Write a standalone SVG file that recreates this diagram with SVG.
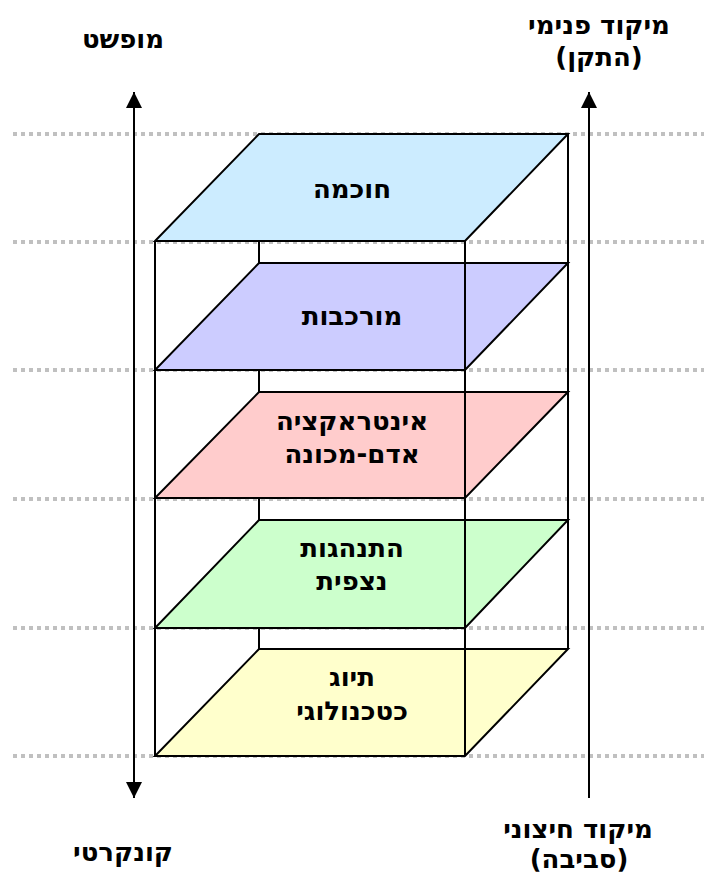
<svg xmlns="http://www.w3.org/2000/svg" width="704" height="874" viewBox="0 0 704 874">
  <style>
    .guide { stroke: #c0c0c0; stroke-width: 4; stroke-dasharray: 4 4; fill: none; }
    .edge { stroke: #000; stroke-width: 2; fill: none; }
    .layer { stroke: #000; stroke-width: 2; stroke-linejoin: miter; }
    .lbl { font-family: "DejaVu Sans", Verdana, sans-serif; font-weight: bold; font-size: 26px; fill: #000; text-anchor: middle; direction: rtl; }
  </style>
  <defs>
    <marker id="head" viewBox="0 0 16 16" refX="16" refY="8" markerWidth="16" markerHeight="16" markerUnits="userSpaceOnUse" orient="auto-start-reverse">
      <path d="M0,0 L16,8 L0,16 Z" fill="#000"/>
    </marker>
  </defs>
  <rect width="704" height="874" fill="#fff"/>

  <!-- dotted level guides -->
  <g id="guides">
    <line class="guide" x1="13" y1="134" x2="704" y2="134"/>
    <line class="guide" x1="13" y1="242" x2="704" y2="242"/>
    <line class="guide" x1="13" y1="370" x2="704" y2="370"/>
    <line class="guide" x1="13" y1="499" x2="704" y2="499"/>
    <line class="guide" x1="13" y1="628" x2="704" y2="628"/>
    <line class="guide" x1="13" y1="756" x2="704" y2="756"/>
  </g>

  <!-- back edges of the box, hidden behind the layers -->
  <g id="back-frame">
    <line class="edge" x1="259" y1="134" x2="259" y2="649"/>
    <line class="edge" x1="568" y1="134" x2="568" y2="649"/>
  </g>

  <g id="layer-wisdom">
    <polygon class="layer" fill="#ccecff" points="259,134 568,134 465,241 155,241"/>
    <text class="lbl" x="352" y="198">חוכמה</text>
  </g>
  <g id="layer-complexity">
    <polygon class="layer" fill="#ccccff" points="259,263 568,263 465,370 155,370"/>
    <text class="lbl" x="352" y="325">מורכבות</text>
  </g>
  <g id="layer-hci">
    <polygon class="layer" fill="#ffcccc" points="259,392 568,392 465,498 155,498"/>
    <text class="lbl" x="352" y="430">אינטראקציה</text>
    <text class="lbl" x="352" y="463">אדם-מכונה</text>
  </g>
  <g id="layer-behavior">
    <polygon class="layer" fill="#ccffcc" points="259,520 568,520 465,628 155,628"/>
    <text class="lbl" x="352" y="557">התנהגות</text>
    <text class="lbl" x="352" y="590">נצפית</text>
  </g>
  <g id="layer-tagging">
    <polygon class="layer" fill="#ffffcc" points="259,649 568,649 465,756 155,756"/>
    <text class="lbl" x="352" y="686">תיוג</text>
    <text class="lbl" x="352" y="720">כטכנולוגי</text>
  </g>

  <!-- front edges of the box -->
  <g id="front-frame">
    <line class="edge" x1="155" y1="241" x2="155" y2="756"/>
    <line class="edge" x1="465" y1="241" x2="465" y2="756"/>
  </g>

  <!-- axis arrows -->
  <g id="connectors">
    <line class="edge" x1="134" y1="798" x2="134" y2="92" marker-start="url(#head)" marker-end="url(#head)"/>
    <line class="edge" x1="589" y1="798" x2="589" y2="92" marker-end="url(#head)"/>
  </g>

  <g id="axis-labels">
    <text class="lbl" x="123" y="48">מופשט</text>
    <text class="lbl" x="123" y="861">קונקרטי</text>
    <text class="lbl" x="599" y="34">מיקוד פנימי</text>
    <text class="lbl" x="599" y="66">(התקן)</text>
    <text class="lbl" x="578" y="838">מיקוד חיצוני</text>
    <text class="lbl" x="579" y="868">(סביבה)</text>
  </g>
</svg>
